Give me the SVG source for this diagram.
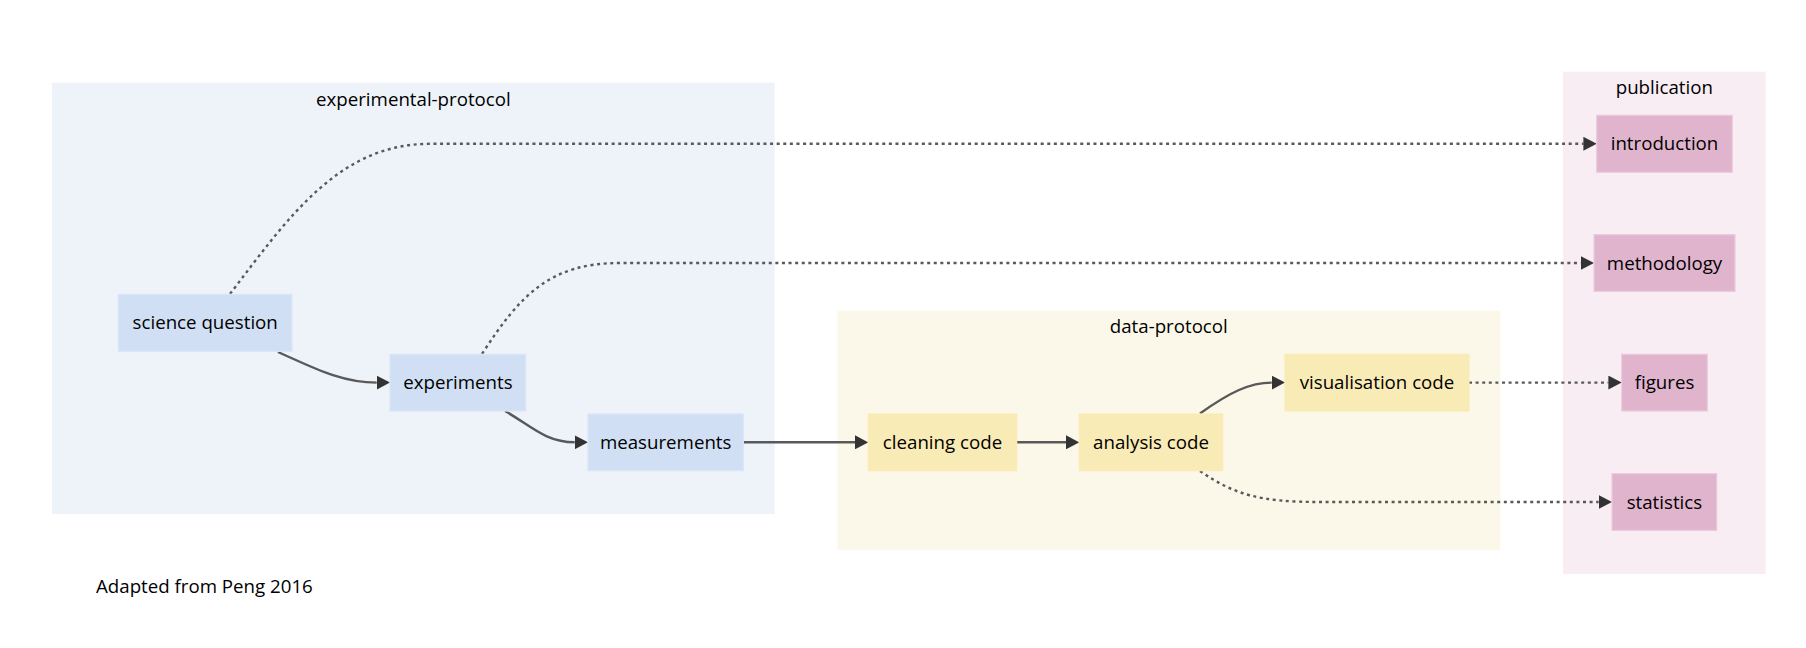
<svg xmlns="http://www.w3.org/2000/svg" width="1806" height="648" viewBox="0 0 1806 648">
<style>
text{font-family:"Open Sans","Noto Sans","Liberation Sans",sans-serif;font-size:18.7px;fill:#000;text-anchor:middle}
.edge{fill:none;stroke:#595959;stroke-width:2.4}
.dot{stroke-dasharray:3 3.6}
.blue{fill:#D0DFF4;stroke:#DAE6F6;stroke-width:1.2}
.yel{fill:#F9EBB6;stroke:#F9EBB6;stroke-width:1.2}
.pink{fill:#E0B4CD;stroke:#EBCADC;stroke-width:1.2}
</style>
<defs>
<marker id="arr" viewBox="0 0 13.3 14" refX="0" refY="7" markerWidth="13.3" markerHeight="14" markerUnits="userSpaceOnUse" orient="auto">
<path d="M0,0 L13.3,7 L0,14 z" fill="#333"/>
</marker>
</defs>
<rect width="1806" height="648" fill="#fff"/>
<g id="cluster-experimental-protocol">
<rect x="52" y="82.7" width="722.7" height="431.3" fill="#EEF3FA"/>
<text x="413.4" y="105.7">experimental-protocol</text>
</g>
<g id="cluster-data-protocol">
<rect x="837.3" y="310.7" width="663" height="239.3" fill="#FCF8E9"/>
<text x="1168.8" y="333.3">data-protocol</text>
</g>
<g id="cluster-publication">
<rect x="1563" y="71.7" width="202.7" height="502.3" fill="#F8EDF3"/>
<text x="1664.3" y="94.3">publication</text>
</g>
<g id="connectors">
<path class="edge" d="M278,352 C310,366 340,382.6 376.7,382.6" marker-end="url(#arr)"/>
<path class="edge" d="M505,411 C530,425 545,442.3 574.7,442.3" marker-end="url(#arr)"/>
<path class="edge" d="M743.3,442.3 L855,442.3" marker-end="url(#arr)"/>
<path class="edge" d="M1016.7,442.3 L1066,442.3" marker-end="url(#arr)"/>
<path class="edge" d="M1200,413.5 C1230,392 1250,382.6 1271.7,382.6" marker-end="url(#arr)"/>
<path class="edge dot" d="M230,294 C290,215 340,143.8 430,143.8 L1583.4,143.8" marker-end="url(#arr)"/>
<path class="edge dot" d="M482,354 C520,295 550,263 620,263 L1580.7,263" marker-end="url(#arr)"/>
<path class="edge dot" d="M1469,382.6 L1608.4,382.6" marker-end="url(#arr)"/>
<path class="edge dot" d="M1200,471 C1235,495 1260,502 1320,502 L1598.7,502" marker-end="url(#arr)"/>
</g>
<g id="node-science-question">
<rect class="blue" x="118.3" y="294.3" width="173.7" height="57"/>
<text x="205.2" y="329.3">science question</text>
</g>
<g id="node-experiments">
<rect class="blue" x="390" y="354.3" width="135.7" height="56.7"/>
<text x="457.9" y="389.1">experiments</text>
</g>
<g id="node-measurements">
<rect class="blue" x="588" y="414" width="155.3" height="56.7"/>
<text x="665.7" y="448.8">measurements</text>
</g>
<g id="node-cleaning-code">
<rect class="yel" x="868.3" y="414" width="148.4" height="56.7"/>
<text x="942.5" y="448.8">cleaning code</text>
</g>
<g id="node-analysis-code">
<rect class="yel" x="1079.3" y="414" width="143.4" height="56.7"/>
<text x="1151" y="448.8">analysis code</text>
</g>
<g id="node-visualisation-code">
<rect class="yel" x="1285" y="354.3" width="184" height="56.7"/>
<text x="1377" y="389.1">visualisation code</text>
</g>
<g id="node-introduction">
<rect class="pink" x="1596.7" y="115.3" width="135.6" height="57"/>
<text x="1664.5" y="150.3">introduction</text>
</g>
<g id="node-methodology">
<rect class="pink" x="1594" y="234.7" width="141" height="56.7"/>
<text x="1664.5" y="269.5">methodology</text>
</g>
<g id="node-figures">
<rect class="pink" x="1621.7" y="354.3" width="85.6" height="56.7"/>
<text x="1664.5" y="389.1">figures</text>
</g>
<g id="node-statistics">
<rect class="pink" x="1612" y="473.7" width="104.7" height="56.7"/>
<text x="1664.4" y="508.5">statistics</text>
</g>
<g id="footer">
<text x="96" y="593.3" style="text-anchor:start">Adapted from Peng 2016</text>
</g>
</svg>
